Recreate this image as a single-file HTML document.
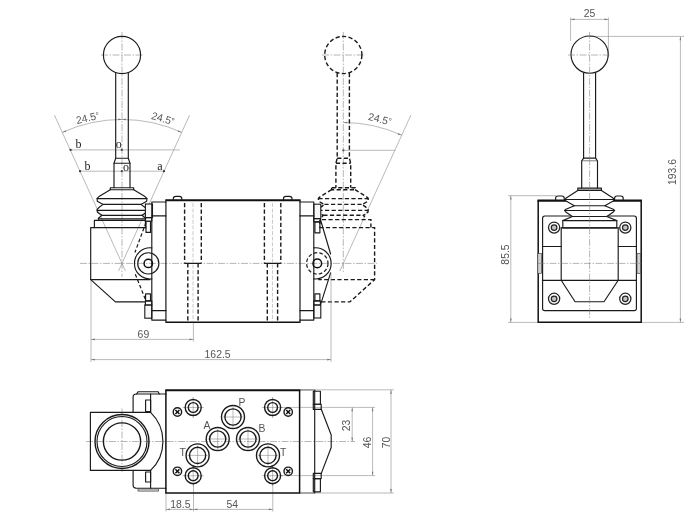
<!DOCTYPE html>
<html><head><meta charset="utf-8"><title>Dimensions</title>
<style>
html,body{margin:0;padding:0;background:#fff;}
body{width:700px;height:515px;overflow:hidden;}
svg{display:block;filter:blur(0.35px);}
.m{fill:none;stroke:#1a1a1a;stroke-width:1.15;stroke-linejoin:round;stroke-linecap:round}
.n{fill:none;stroke:#444;stroke-width:0.7}
.mw{fill:#fff;stroke:#1a1a1a;stroke-width:1.15;stroke-linejoin:round}
.mf{fill:#f7f7f7;stroke:#1a1a1a;stroke-width:1.1}
.mg{fill:#d2d2d2;stroke:#444;stroke-width:0.7}
.k{fill:none;stroke:#111;stroke-width:1.5;stroke-linejoin:miter}
.kt{fill:none;stroke:#111;stroke-width:2.1}
.kv{fill:none;stroke:#2a2a2a;stroke-width:1.3}
.h{fill:none;stroke:#1a1a1a;stroke-width:1.4;stroke-dasharray:4.2 2.4}
.hm{fill:none;stroke:#1a1a1a;stroke-width:1.2;stroke-dasharray:3.6 2.2}
.hc{fill:none;stroke:#aaa;stroke-width:0.6;stroke-dasharray:4 1.6}
.d{fill:none;stroke:#8c8c8c;stroke-width:0.6}
.c{fill:none;stroke:#7a7a7a;stroke-width:0.55;stroke-dasharray:7 1.5 1.5 1.5}
.c2{fill:none;stroke:#777;stroke-width:0.5}
.x{fill:none;stroke:#111;stroke-width:1.5}
.p{fill:none;stroke:#1a1a1a;stroke-width:1.4}
.n2{fill:none;stroke:#222;stroke-width:1.25}
.n2g{fill:#c4c4c4;stroke:#222;stroke-width:1.25}
.ah{fill:#777;stroke:none}
.dot{fill:#333;stroke:none}
.t{font-family:"Liberation Sans",Arial,sans-serif;font-size:10.4px;fill:#555}
.s{font-family:"Liberation Serif","Times New Roman",serif;font-size:12px;fill:#222}
</style></head>
<body>
<svg width="700" height="515" viewBox="0 0 700 515">
<rect x="0" y="0" width="700" height="515" fill="#fff"/>
<line class="d" x1="125.5" y1="271.1" x2="54.4" y2="115.1"/>
<line class="d" x1="118.5" y1="271.1" x2="189.6" y2="115.1"/>
<line class="d" x1="339.8" y1="271.1" x2="410.9" y2="115.1"/>
<path class="d" d="M62.3,132.4 A144.0,144.0 0 0 1 181.7,132.4"/>
<polygon class="ah" points="62.3,132.4 65.6,130.2 66.2,131.7"/>
<polygon class="ah" points="181.7,132.4 177.8,131.7 178.4,130.2"/>
<polygon class="ah" points="122.0,119.4 118.1,120.2 118.1,118.6"/>
<polygon class="ah" points="122.0,119.4 125.9,118.6 125.9,120.2"/>
<path class="d" d="M343.3,122.5 A140.9,140.9 0 0 1 401.7,135.2"/>
<polygon class="ah" points="401.7,135.2 397.8,134.5 398.4,133.0"/>
<polygon class="ah" points="343.3,122.5 347.2,121.7 347.2,123.3"/>
<line class="d" x1="70.6" y1="149.9" x2="179.8" y2="149.9"/>
<line class="d" x1="80.0" y1="171.2" x2="164.0" y2="171.2"/>
<circle class="dot" cx="70.6" cy="149.9" r="1.1"/>
<circle class="dot" cx="121.8" cy="149.9" r="1.1"/>
<circle class="dot" cx="80.0" cy="171.2" r="1.1"/>
<circle class="dot" cx="121.8" cy="171.2" r="1.1"/>
<circle class="dot" cx="164.0" cy="171.2" r="1.1"/>
<circle class="dot" cx="343.4" cy="150.3" r="1.1"/>
<line class="d" x1="343.4" y1="150.3" x2="395.3" y2="150.3"/>
<line class="c" x1="122.0" y1="32.0" x2="122.0" y2="277.0"/>
<line class="c" x1="101.0" y1="55.0" x2="143.0" y2="55.0"/>
<line class="c" x1="343.3" y1="32.0" x2="343.3" y2="272.0"/>
<line class="c" x1="322.0" y1="55.0" x2="364.0" y2="55.0"/>
<line class="c" x1="80.0" y1="263.4" x2="377.0" y2="263.4"/>
<text class="t" x="88.5" y="121.3" text-anchor="middle" transform="rotate(-13 88.5 121.3)">24.5<tspan font-size="8.5" dy="-1">°</tspan></text>
<text class="t" x="162.0" y="122.0" text-anchor="middle" transform="rotate(16 162.0 122.0)">24.5<tspan font-size="8.5" dy="-1">°</tspan></text>
<text class="t" x="379.0" y="122.5" text-anchor="middle" transform="rotate(14 379.0 122.5)">24.5<tspan font-size="8.5" dy="-1">°</tspan></text>
<text class="s" x="78.6" y="148.2" text-anchor="middle">b</text>
<text class="s" x="118.8" y="148.2" text-anchor="middle">o</text>
<text class="s" x="87.6" y="170.2" text-anchor="middle">b</text>
<text class="s" x="126.0" y="170.6" text-anchor="middle">o</text>
<text class="s" x="159.8" y="169.6" text-anchor="middle">a</text>
<circle class="h" cx="343.3" cy="55.0" r="18.6"/>
<polyline class="h" points="337.2,73.0 337.2,158.2 335.9,163.2 335.9,187.7"/>
<polyline class="h" points="349.4,73.0 349.4,158.2 350.7,163.2 350.7,187.7"/>
<line class="h" x1="337.2" y1="158.2" x2="349.4" y2="158.2"/>
<line class="h" x1="335.9" y1="163.2" x2="350.7" y2="163.2"/>
<rect class="h" x="331.6" y="187.7" width="23.4" height="2.0"/>
<polyline class="h" points="331.6,189.7 320.3,196.6 318.4,198.4 318.6,201.2 324.4,204.4 319.9,207.8 318.4,209.5 318.7,212.3 323.3,215.3 320.3,218.6"/>
<polyline class="h" points="355.0,189.7 366.3,196.6 368.2,198.4 368.0,201.2 362.2,204.4 366.7,207.8 368.2,209.5 367.9,212.3 363.3,215.3 366.3,218.6"/>
<line class="h" x1="318.4" y1="198.6" x2="368.2" y2="198.6"/>
<line class="h" x1="324.4" y1="204.4" x2="362.2" y2="204.4"/>
<line class="h" x1="318.4" y1="210.4" x2="368.2" y2="210.4"/>
<line class="h" x1="323.3" y1="215.3" x2="363.3" y2="215.3"/>
<polyline class="h" points="370.9,227.6 370.9,219.6 319.9,219.6 319.9,227.6"/>
<polyline class="h" points="319.3,227.6 374.6,227.6 374.6,279.6 349.9,301.9 319.9,301.9"/>
<line class="h" x1="374.6" y1="279.6" x2="318.3" y2="279.6"/>
<circle class="m" cx="122.0" cy="55.0" r="18.6"/>
<polyline class="m" points="115.7,73.0 115.7,158.2 114.0,163.2 114.0,187.7"/>
<polyline class="m" points="128.3,73.0 128.3,158.2 130.0,163.2 130.0,187.7"/>
<line class="m" x1="115.7" y1="158.2" x2="128.3" y2="158.2"/>
<line class="m" x1="114.0" y1="163.2" x2="130.0" y2="163.2"/>
<rect class="m" x="110.3" y="187.7" width="23.4" height="2.0"/>
<polyline class="m" points="110.3,189.7 99.0,196.6 97.1,198.4 97.3,201.2 103.1,204.4 98.6,207.8 97.1,209.5 97.4,212.3 102.0,215.3 98.4,218.2 98.4,219.3"/>
<polyline class="m" points="133.7,189.7 145.0,196.6 146.9,198.4 146.7,201.2 140.9,204.4 145.4,207.8 146.9,209.5 146.6,212.3 142.0,215.3 145.6,218.2 145.6,219.3"/>
<line class="m" x1="97.1" y1="198.6" x2="146.9" y2="198.6"/>
<line class="m" x1="103.1" y1="204.4" x2="140.9" y2="204.4"/>
<line class="m" x1="97.1" y1="210.4" x2="146.9" y2="210.4"/>
<line class="m" x1="102.0" y1="215.3" x2="142.0" y2="215.3"/>
<line class="m" x1="98.4" y1="218.8" x2="145.6" y2="218.8"/>
<polyline class="m" points="94.4,227.6 94.4,220.4 145.4,220.4 145.4,227.6"/>
<polyline class="m" points="146.0,227.6 90.7,227.6 90.7,279.6 115.4,301.9 145.4,301.9"/>
<line class="m" x1="90.7" y1="279.6" x2="150.0" y2="279.6"/>
<line class="kt" x1="165.3" y1="200.3" x2="300.6" y2="200.3"/>
<line class="k" x1="165.4" y1="322.3" x2="300.5" y2="322.3"/>
<line class="kv" x1="165.9" y1="200.3" x2="165.9" y2="322.3"/>
<line class="kv" x1="300.0" y1="200.3" x2="300.0" y2="322.3"/>
<path class="m" d="M173.3,200.0 V198.6 Q173.3,196.3 175.9,196.3 H179.20000000000002 Q181.8,196.3 181.8,198.6 V200.0"/>
<path class="m" d="M283.5,200.0 V198.6 Q283.5,196.3 286.1,196.3 H289.4 Q292.0,196.3 292.0,198.6 V200.0"/>
<line class="h" x1="184.6" y1="203.0" x2="184.6" y2="263.4"/>
<line class="h" x1="201.3" y1="203.0" x2="201.3" y2="263.4"/>
<line class="h" x1="264.4" y1="203.0" x2="264.4" y2="263.4"/>
<line class="h" x1="280.8" y1="203.0" x2="280.8" y2="263.4"/>
<line class="h" x1="187.8" y1="263.4" x2="187.8" y2="321.0"/>
<line class="h" x1="198.1" y1="263.4" x2="198.1" y2="321.0"/>
<line class="h" x1="267.3" y1="263.4" x2="267.3" y2="321.0"/>
<line class="h" x1="277.6" y1="263.4" x2="277.6" y2="321.0"/>
<line class="m" x1="185.0" y1="263.4" x2="200.7" y2="263.4"/>
<line class="m" x1="264.6" y1="263.4" x2="280.4" y2="263.4"/>
<line class="hc" x1="193.0" y1="203.0" x2="193.0" y2="321.0"/>
<line class="hc" x1="272.5" y1="203.0" x2="272.5" y2="321.0"/>
<rect class="mf" x="145.4" y="204.0" width="7.1" height="13.6"/>
<rect class="m" x="145.4" y="217.6" width="6.4" height="3.6"/>
<rect class="m" x="146.0" y="221.2" width="4.5" height="11.2"/>
<rect class="mf" x="144.8" y="305.0" width="7.0" height="13.2"/>
<rect class="m" x="145.4" y="300.9" width="6.4" height="4.1"/>
<rect class="m" x="145.6" y="293.8" width="4.9" height="7.1"/>
<polyline class="m" points="166.0,202.0 151.8,202.0 151.8,320.1 166.0,320.1"/>
<line class="m" x1="151.8" y1="215.9" x2="166.0" y2="215.9"/>
<line class="m" x1="151.8" y1="310.6" x2="166.0" y2="310.6"/>
<circle class="m" cx="148.3" cy="263.4" r="10.6"/>
<circle class="k" cx="148.3" cy="263.4" r="4.2"/>
<path class="m" d="M151.8,247.9 A15.6,15.6 0 1 0 151.8,278.9"/>
<line class="hm" x1="146.0" y1="222.5" x2="134.9" y2="252.5"/>
<line class="hm" x1="135.3" y1="274.2" x2="145.6" y2="300.0"/>
<rect class="mf" x="313.8" y="204.2" width="7.0" height="14.4"/>
<rect class="m" x="313.8" y="218.6" width="6.6" height="3.2"/>
<rect class="m" x="314.9" y="221.8" width="5.0" height="11.0"/>
<rect class="mf" x="313.8" y="305.0" width="7.0" height="13.0"/>
<rect class="m" x="313.8" y="300.9" width="6.6" height="4.1"/>
<rect class="m" x="314.9" y="293.8" width="5.0" height="7.1"/>
<polyline class="m" points="299.8,202.0 313.8,202.0 313.8,320.1 299.8,320.1"/>
<line class="m" x1="299.8" y1="215.9" x2="313.8" y2="215.9"/>
<line class="m" x1="299.8" y1="310.6" x2="313.8" y2="310.6"/>
<circle class="k" cx="317.3" cy="263.4" r="4.3"/>
<circle class="hm" cx="317.3" cy="263.4" r="10.7"/>
<path class="m" d="M313.8,247.9 A15.6,15.6 0 1 1 313.8,278.9"/>
<line class="m" x1="320.3" y1="219.0" x2="330.6" y2="254.0"/>
<line class="m" x1="330.6" y1="272.8" x2="320.5" y2="304.8"/>
<line class="d" x1="91.0" y1="281.0" x2="91.0" y2="362.0"/>
<line class="d" x1="193.4" y1="323.0" x2="193.4" y2="341.5"/>
<line class="d" x1="331.0" y1="273.0" x2="331.0" y2="362.0"/>
<line class="d" x1="91.0" y1="339.4" x2="193.4" y2="339.4"/>
<polygon class="ah" points="91.0,339.4 94.9,338.6 94.9,340.2"/>
<polygon class="ah" points="193.4,339.4 189.5,340.2 189.5,338.6"/>
<text class="t" x="143.4" y="337.8" text-anchor="middle">69</text>
<line class="d" x1="91.0" y1="359.6" x2="331.0" y2="359.6"/>
<polygon class="ah" points="91.0,359.6 94.9,358.8 94.9,360.4"/>
<polygon class="ah" points="331.0,359.6 327.1,360.4 327.1,358.8"/>
<text class="t" x="217.6" y="357.8" text-anchor="middle">162.5</text>
<line class="d" x1="570.6" y1="17.5" x2="570.6" y2="41.0"/>
<line class="d" x1="608.4" y1="17.5" x2="608.4" y2="57.0"/>
<line class="d" x1="570.6" y1="19.4" x2="608.4" y2="19.4"/>
<polygon class="ah" points="570.6,19.4 574.5,18.6 574.5,20.2"/>
<polygon class="ah" points="608.4,19.4 604.5,20.2 604.5,18.6"/>
<text class="t" x="589.5" y="17.3" text-anchor="middle">25</text>
<line class="d" x1="589.6" y1="36.4" x2="684.0" y2="36.4"/>
<line class="d" x1="641.5" y1="322.4" x2="684.0" y2="322.4"/>
<line class="d" x1="508.0" y1="322.4" x2="537.8" y2="322.4"/>
<line class="d" x1="508.0" y1="195.7" x2="556.0" y2="195.7"/>
<line class="d" x1="680.4" y1="36.4" x2="680.4" y2="322.4"/>
<polygon class="ah" points="680.4,36.4 681.2,40.3 679.6,40.3"/>
<polygon class="ah" points="680.4,322.4 679.6,318.5 681.2,318.5"/>
<text class="t" x="675.8" y="172.0" text-anchor="middle" transform="rotate(-90 675.8 172.0)">193.6</text>
<line class="d" x1="510.8" y1="195.7" x2="510.8" y2="322.4"/>
<polygon class="ah" points="510.8,195.7 511.6,199.6 510.0,199.6"/>
<polygon class="ah" points="510.8,322.4 510.0,318.5 511.6,318.5"/>
<text class="t" x="508.6" y="254.5" text-anchor="middle" transform="rotate(-90 508.6 254.5)">85.5</text>
<circle class="m" cx="589.6" cy="54.6" r="18.6"/>
<polyline class="m" points="583.6,73.0 583.6,158.1 581.7,160.8 581.7,188.1"/>
<polyline class="m" points="595.6,73.0 595.6,158.1 597.5,160.8 597.5,188.1"/>
<line class="m" x1="583.6" y1="158.1" x2="595.6" y2="158.1"/>
<line class="n" x1="581.7" y1="160.8" x2="597.5" y2="160.8"/>
<rect class="m" x="577.8" y="188.1" width="23.6" height="2.3"/>
<line class="kt" x1="537.5" y1="200.6" x2="641.9" y2="200.6"/>
<path class="k" d="M538.2,200.6 V322.2 H641.2 V200.6"/>
<rect class="m" x="542.6" y="216.0" width="93.8" height="94.6" rx="2.2"/>
<path class="m" d="M555.6,200.2 V198.3 Q555.6,196 557.9,196 H561.9 Q564.2,196 564.2,198.3 V200.2"/>
<path class="m" d="M614.6,200.2 V198.3 Q614.6,196 616.9,196 H620.9 Q623.2,196 623.2,198.3 V200.2"/>
<polygon class="mw" points="577.8,190.4 566.2,198.0 564.9,199.5 566.0,201.0 574.4,205.7 566.0,209.2 564.6,210.5 565.8,212.0 572.4,216.5 606.8,216.5 613.4,212.0 614.6,210.5 613.2,209.2 604.8,205.7 613.2,201.0 614.3,199.5 613.0,198.0 601.4,190.4"/>
<line class="m" x1="564.9" y1="199.5" x2="614.3" y2="199.5"/>
<line class="m" x1="574.4" y1="205.7" x2="604.8" y2="205.7"/>
<line class="m" x1="564.6" y1="210.5" x2="614.6" y2="210.5"/>
<line class="m" x1="572.4" y1="216.5" x2="606.8" y2="216.5"/>
<polygon class="mw" points="572.4,216.5 562.8,220.6 562.8,227.8 616.8,227.8 616.8,220.6 606.8,216.5"/>
<line class="m" x1="562.8" y1="220.6" x2="616.8" y2="220.6"/>
<polyline class="m" points="561.2,227.8 561.2,280.3 575.1,301.7 604.0,301.7 618.2,280.3 618.2,227.8"/>
<line class="m" x1="561.2" y1="227.8" x2="618.2" y2="227.8"/>
<line class="m" x1="542.4" y1="246.5" x2="561.2" y2="246.5"/>
<line class="m" x1="618.2" y1="246.5" x2="636.5" y2="246.5"/>
<line class="m" x1="542.4" y1="280.3" x2="636.5" y2="280.3"/>
<circle class="n2" cx="554.1" cy="227.6" r="5.6"/>
<circle class="n2g" cx="554.1" cy="227.6" r="2.8"/>
<circle class="n2" cx="554.1" cy="298.8" r="5.6"/>
<circle class="n2g" cx="554.1" cy="298.8" r="2.8"/>
<circle class="n2" cx="625.3" cy="227.6" r="5.6"/>
<circle class="n2g" cx="625.3" cy="227.6" r="2.8"/>
<circle class="n2" cx="625.3" cy="298.8" r="5.6"/>
<circle class="n2g" cx="625.3" cy="298.8" r="2.8"/>
<rect class="mg" x="537.8" y="253.5" width="3.6" height="19.8"/>
<rect class="mg" x="637.0" y="253.5" width="3.6" height="19.8"/>
<line class="c" x1="589.6" y1="32.0" x2="589.6" y2="318.0"/>
<line class="c" x1="568.0" y1="55.0" x2="611.0" y2="55.0"/>
<line class="c" x1="538.0" y1="263.4" x2="642.0" y2="263.4"/>
<line class="d" x1="300.0" y1="389.8" x2="394.0" y2="389.8"/>
<line class="d" x1="281.0" y1="407.4" x2="375.0" y2="407.4"/>
<line class="d" x1="281.0" y1="475.6" x2="375.0" y2="475.6"/>
<line class="d" x1="300.0" y1="493.0" x2="394.0" y2="493.0"/>
<line class="d" x1="352.2" y1="407.4" x2="352.2" y2="441.5"/>
<polygon class="ah" points="352.2,407.4 353.0,411.3 351.4,411.3"/>
<polygon class="ah" points="352.2,441.5 351.4,437.6 353.0,437.6"/>
<text class="t" x="349.8" y="425.5" text-anchor="middle" transform="rotate(-90 349.8 425.5)">23</text>
<line class="d" x1="372.6" y1="407.4" x2="372.6" y2="475.6"/>
<polygon class="ah" points="372.6,407.4 373.4,411.3 371.8,411.3"/>
<polygon class="ah" points="372.6,475.6 371.8,471.7 373.4,471.7"/>
<text class="t" x="371.2" y="442.5" text-anchor="middle" transform="rotate(-90 371.2 442.5)">46</text>
<line class="d" x1="391.0" y1="389.8" x2="391.0" y2="493.0"/>
<polygon class="ah" points="391.0,389.8 391.8,393.7 390.2,393.7"/>
<polygon class="ah" points="391.0,493.0 390.2,489.1 391.8,489.1"/>
<text class="t" x="389.8" y="442.5" text-anchor="middle" transform="rotate(-90 389.8 442.5)">70</text>
<line class="d" x1="166.0" y1="493.0" x2="166.0" y2="511.5"/>
<line class="d" x1="193.5" y1="484.0" x2="193.5" y2="511.5"/>
<line class="d" x1="272.8" y1="484.0" x2="272.8" y2="511.5"/>
<line class="d" x1="166.0" y1="509.4" x2="193.5" y2="509.4"/>
<polygon class="ah" points="166.0,509.4 169.9,508.6 169.9,510.2"/>
<polygon class="ah" points="193.5,509.4 189.6,510.2 189.6,508.6"/>
<text class="t" x="180.4" y="507.5" text-anchor="middle">18.5</text>
<line class="d" x1="193.5" y1="509.4" x2="272.8" y2="509.4"/>
<polygon class="ah" points="193.5,509.4 197.4,508.6 197.4,510.2"/>
<polygon class="ah" points="272.8,509.4 268.9,510.2 268.9,508.6"/>
<text class="t" x="232.2" y="507.5" text-anchor="middle">54</text>
<line class="c" x1="86.0" y1="441.5" x2="355.0" y2="441.5"/>
<line class="c" x1="122.0" y1="408.5" x2="122.0" y2="472.0"/>
<polyline class="m" points="150.6,412.4 90.4,412.4 90.4,470.4 150.6,470.4"/>
<path class="m" d="M150.6,412.4 A40.3,40.3 0 0 1 150.6,470.4"/>
<circle class="p" cx="122.0" cy="441.5" r="27.0"/>
<circle class="m" cx="122.0" cy="441.5" r="25.0"/>
<circle class="p" cx="122.0" cy="441.5" r="18.6"/>
<path class="m" d="M166,394 H136.2 Q133.1,394 133.1,397.1 V412.4 M133.1,470.4 V485.1 Q133.1,488.2 136.2,488.2 H166"/>
<polyline class="m" points="136.6,394.0 138.2,391.7 158.2,391.7 159.2,394.0"/>
<rect class="mg" x="138.0" y="488.9" width="20.4" height="2.2"/>
<line class="m" x1="150.6" y1="394.0" x2="150.6" y2="412.4"/>
<line class="m" x1="150.6" y1="470.4" x2="150.6" y2="488.2"/>
<rect class="m" x="145.6" y="400.0" width="5.0" height="11.6"/>
<rect class="m" x="145.6" y="472.0" width="5.0" height="10.0"/>
<line class="kt" x1="165.2" y1="390.3" x2="300.3" y2="390.3"/>
<path class="k" d="M165.9,390.3 V493.0 H299.6 V390.3"/>
<line class="c2" x1="182.7" y1="407.5" x2="203.7" y2="407.5"/>
<line class="c2" x1="193.2" y1="397.0" x2="193.2" y2="418.0"/>
<circle class="p" cx="193.2" cy="407.5" r="8.0"/>
<circle class="p" cx="193.2" cy="407.5" r="4.9"/>
<line class="c2" x1="182.7" y1="475.7" x2="203.7" y2="475.7"/>
<line class="c2" x1="193.2" y1="465.2" x2="193.2" y2="486.2"/>
<circle class="p" cx="193.2" cy="475.7" r="8.0"/>
<circle class="p" cx="193.2" cy="475.7" r="4.9"/>
<line class="c2" x1="262.1" y1="407.5" x2="283.1" y2="407.5"/>
<line class="c2" x1="272.6" y1="397.0" x2="272.6" y2="418.0"/>
<circle class="p" cx="272.6" cy="407.5" r="8.0"/>
<circle class="p" cx="272.6" cy="407.5" r="4.9"/>
<line class="c2" x1="262.1" y1="475.7" x2="283.1" y2="475.7"/>
<line class="c2" x1="272.6" y1="465.2" x2="272.6" y2="486.2"/>
<circle class="p" cx="272.6" cy="475.7" r="8.0"/>
<circle class="p" cx="272.6" cy="475.7" r="4.9"/>
<circle class="p" cx="177.4" cy="412.0" r="4.2"/>
<line class="x" x1="175.4" y1="410.0" x2="179.4" y2="414.0"/>
<line class="x" x1="175.4" y1="414.0" x2="179.4" y2="410.0"/>
<circle class="p" cx="177.4" cy="471.3" r="4.2"/>
<line class="x" x1="175.4" y1="469.3" x2="179.4" y2="473.3"/>
<line class="x" x1="175.4" y1="473.3" x2="179.4" y2="469.3"/>
<circle class="p" cx="288.2" cy="412.0" r="4.2"/>
<line class="x" x1="286.2" y1="410.0" x2="290.2" y2="414.0"/>
<line class="x" x1="286.2" y1="414.0" x2="290.2" y2="410.0"/>
<circle class="p" cx="288.2" cy="471.3" r="4.2"/>
<line class="x" x1="286.2" y1="469.3" x2="290.2" y2="473.3"/>
<line class="x" x1="286.2" y1="473.3" x2="290.2" y2="469.3"/>
<line class="c2" x1="223.0" y1="417.0" x2="243.0" y2="417.0"/>
<line class="c2" x1="233.0" y1="407.0" x2="233.0" y2="427.0"/>
<circle class="p" cx="233.0" cy="417.0" r="11.5"/>
<circle class="p" cx="233.0" cy="417.0" r="8.1"/>
<line class="c2" x1="207.7" y1="439.0" x2="227.7" y2="439.0"/>
<line class="c2" x1="217.7" y1="429.0" x2="217.7" y2="449.0"/>
<circle class="p" cx="217.7" cy="439.0" r="11.5"/>
<circle class="p" cx="217.7" cy="439.0" r="8.1"/>
<line class="c2" x1="238.0" y1="439.0" x2="258.0" y2="439.0"/>
<line class="c2" x1="248.0" y1="429.0" x2="248.0" y2="449.0"/>
<circle class="p" cx="248.0" cy="439.0" r="11.5"/>
<circle class="p" cx="248.0" cy="439.0" r="8.1"/>
<line class="c2" x1="187.6" y1="455.4" x2="207.6" y2="455.4"/>
<line class="c2" x1="197.6" y1="445.4" x2="197.6" y2="465.4"/>
<circle class="p" cx="197.6" cy="455.4" r="11.5"/>
<circle class="p" cx="197.6" cy="455.4" r="8.1"/>
<line class="c2" x1="258.0" y1="455.4" x2="278.0" y2="455.4"/>
<line class="c2" x1="268.0" y1="445.4" x2="268.0" y2="465.4"/>
<circle class="p" cx="268.0" cy="455.4" r="11.5"/>
<circle class="p" cx="268.0" cy="455.4" r="8.1"/>
<text class="t" x="242.0" y="406.3" text-anchor="middle">P</text>
<text class="t" x="207.0" y="429.3" text-anchor="middle">A</text>
<text class="t" x="262.0" y="431.8" text-anchor="middle">B</text>
<text class="t" x="182.6" y="455.8" text-anchor="middle">T</text>
<text class="t" x="283.2" y="455.8" text-anchor="middle">T</text>
<line class="m" x1="314.7" y1="390.3" x2="314.7" y2="493.0"/>
<polyline class="m" points="313.3,391.2 320.4,391.2 320.4,404.2 313.3,404.2 313.3,391.2"/>
<polyline class="m" points="313.3,404.2 321.2,404.2 321.2,409.4 313.3,409.4 313.3,404.2"/>
<polyline class="m" points="313.3,491.8 320.4,491.8 320.4,478.6 313.3,478.6 313.3,491.8"/>
<polyline class="m" points="313.3,478.6 321.2,478.6 321.2,473.4 313.3,473.4 313.3,478.6"/>
<polyline class="m" points="321.2,409.0 331.2,435.0 331.2,447.5 321.2,473.6"/>
<line class="n" x1="300.0" y1="493.0" x2="314.7" y2="493.0"/>
<line class="n" x1="300.0" y1="390.0" x2="314.7" y2="390.0"/>
</svg>
</body></html>
